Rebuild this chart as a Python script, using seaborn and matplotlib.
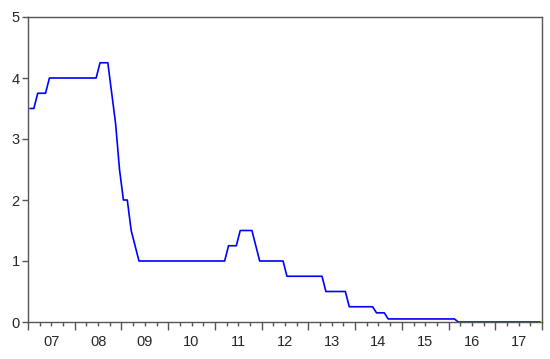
import numpy as np
import pandas as pd
import seaborn as sns
import matplotlib.pyplot as plt

# monthly rate, 2007M01 - 2017M12
years = list(range(2007, 2018))
rate_2007 = [3.5, 3.5, 3.75, 3.75, 3.75, 4, 4, 4, 4, 4, 4, 4]
rate_2008 = [4, 4, 4, 4, 4, 4, 4.25, 4.25, 4.25, 3.75, 3.25, 2.5]
rate_2009 = [2, 2, 1.5, 1.25, 1, 1, 1, 1, 1, 1, 1, 1]
rate_2010 = [1, 1, 1, 1, 1, 1, 1, 1, 1, 1, 1, 1]
rate_2011 = [1, 1, 1, 1.25, 1.25, 1.25, 1.5, 1.5, 1.5, 1.5, 1.25, 1]
rate_2012 = [1, 1, 1, 1, 1, 1, 0.75, 0.75, 0.75, 0.75, 0.75, 0.75]
rate_2013 = [0.75, 0.75, 0.75, 0.75, 0.5, 0.5, 0.5, 0.5, 0.5, 0.5, 0.25, 0.25]
rate_2014 = [0.25, 0.25, 0.25, 0.25, 0.25, 0.15, 0.15, 0.15, 0.05, 0.05, 0.05, 0.05]
rate_2015 = [0.05] * 12
rate_2016 = [0.05, 0.05, 0, 0, 0, 0, 0, 0, 0, 0, 0, 0]
rate_2017 = [0] * 12
year_labels = ['07', '08', '09', '10', '11', '12', '13', '14', '15', '16', '17']

rate = (rate_2007 + rate_2008 + rate_2009 + rate_2010 + rate_2011 + rate_2012
        + rate_2013 + rate_2014 + rate_2015 + rate_2016 + rate_2017)
# mid-month position in fractional years
t = [y + (m + 0.5) / 12 for y in years for m in range(12)]
df = pd.DataFrame({'t': t, 'rate': rate})

sns.set_style('ticks')
plt.rcParams['font.family'] = ['Liberation Sans', 'DejaVu Sans']

fig = plt.figure(figsize=(5.5, 3.59), dpi=100)
ax = fig.add_axes([28 / 550, 37 / 359, 514 / 550, 305 / 359])
sns.lineplot(data=df, x='t', y='rate', color='#0000ff', linewidth=1.2, ax=ax)

ax.set_xlim(2007, 2018)
ax.set_ylim(0, 5)
ax.set_yticks([0, 1, 2, 3, 4, 5])
ax.set_xlabel('')
ax.set_ylabel('')
for s in ax.spines.values():
    s.set_color('#555555')
    s.set_linewidth(1.0)

# year boundaries (long ticks) and quarters (short ticks)
ax.set_xticks(range(2007, 2019))
ax.set_xticklabels([])
ax.set_xticks(np.arange(2007, 2018.01, 0.25), minor=True)
ax.tick_params(axis='x', which='major', length=6, width=1, color='#555555')
ax.tick_params(axis='x', which='minor', length=3, width=1, color='#555555')
ax.tick_params(axis='y', length=4, width=1, color='#555555', labelsize=10.5, pad=2)

# year labels centred between boundaries
sec = ax.secondary_xaxis('bottom')
sec.set_xticks([y + 0.5 for y in years])
sec.set_xticklabels(year_labels)
sec.tick_params(length=0, labelsize=10.5, pad=9)
sec.spines['bottom'].set_visible(False)

fig.savefig('out.png', dpi=100)
